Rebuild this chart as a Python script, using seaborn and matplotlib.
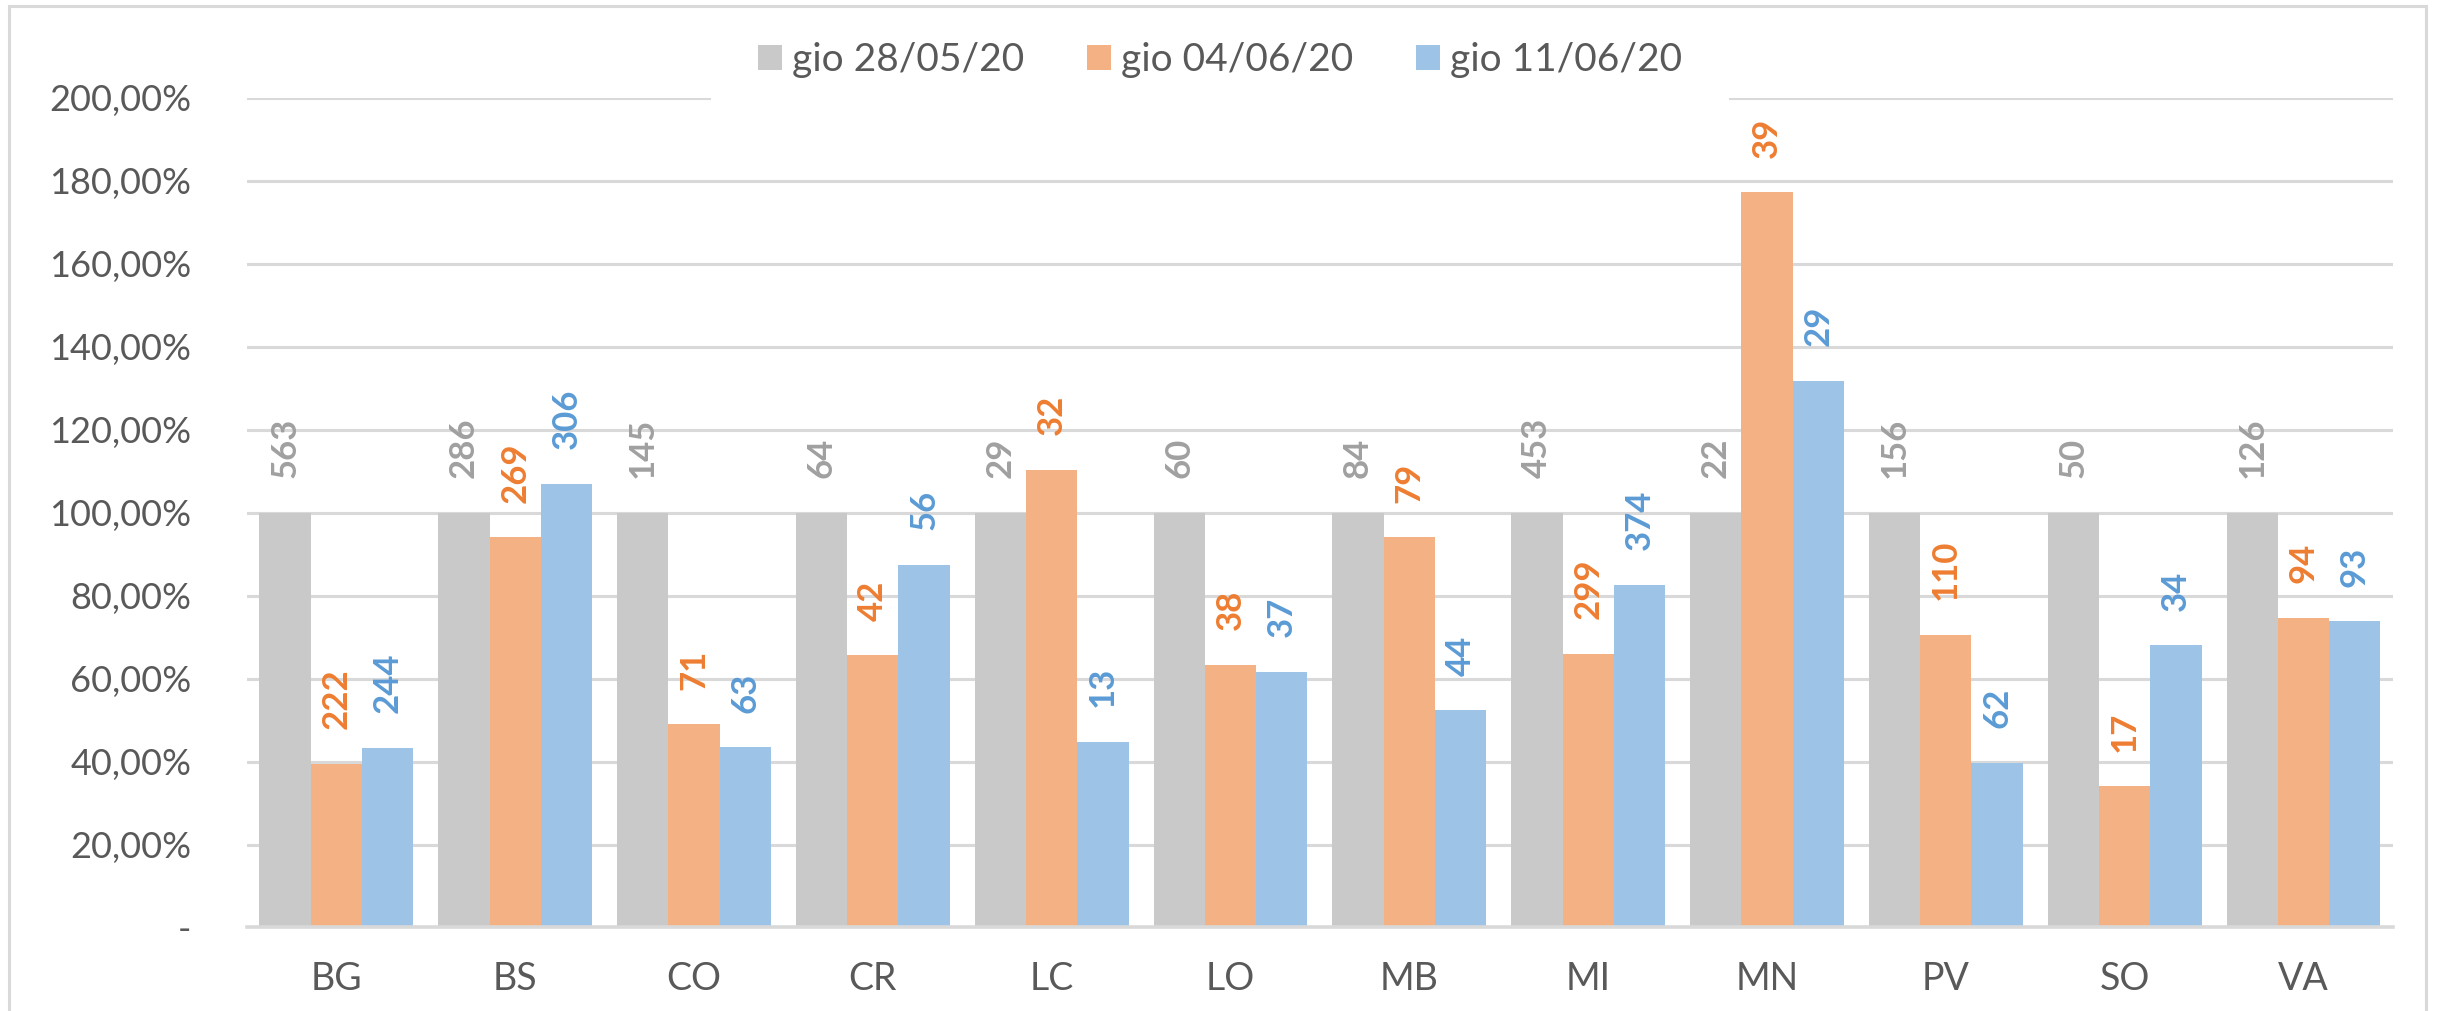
import pandas as pd
import matplotlib.pyplot as plt
import seaborn as sns
import matplotlib.ticker as mticker
from matplotlib.patches import Rectangle

# province e serie
province = ["BG", "BS", "CO", "CR", "LC", "LO", "MB", "MI", "MN", "PV", "SO", "VA"]
date = ["gio 28/05/20", "gio 04/06/20", "gio 11/06/20"]

# percentuali rispetto al 28/05
pct_2805 = [100, 100, 100, 100, 100, 100, 100, 100, 100, 100, 100, 100]
pct_0406 = [39.43, 94.06, 48.97, 65.63, 110.34, 63.33, 94.05, 66.00, 177.27, 70.51, 34.00, 74.60]
pct_1106 = [43.34, 106.99, 43.45, 87.50, 44.83, 61.67, 52.38, 82.56, 131.82, 39.74, 68.00, 73.81]

# valori assoluti mostrati come etichette
n_2805 = [563, 286, 145, 64, 29, 60, 84, 453, 22, 156, 50, 126]
n_0406 = [222, 269, 71, 42, 32, 38, 79, 299, 39, 110, 17, 94]
n_1106 = [244, 306, 63, 56, 13, 37, 44, 374, 29, 62, 34, 93]

bar_colors = ["#C9C9C9", "#F4B183", "#9DC3E6"]
label_colors = ["#A0A0A0", "#ED7D31", "#5B9BD5"]

df = pd.DataFrame({
    "prov": province * 3,
    "data": [date[0]] * 12 + [date[1]] * 12 + [date[2]] * 12,
    "pct": pct_2805 + pct_0406 + pct_1106,
})

sns.set_style("white")
plt.rcParams["font.family"] = ["Lato", "DejaVu Sans"]

fig = plt.figure(figsize=(24.4, 10.11), dpi=100)
ax = fig.add_axes([0.1012, 0.0826, 0.8795, 0.8205])

sns.barplot(data=df, x="prov", y="pct", hue="data", palette=bar_colors,
            width=0.86, saturation=1, linewidth=0, ax=ax)

# etichette ruotate sopra le barre
counts = [n_2805, n_0406, n_1106]
for i, cont in enumerate(ax.containers):
    ax.bar_label(cont, labels=[str(v) for v in counts[i]], rotation=90,
                 padding=25, fontsize=25, color=label_colors[i], fontweight="bold")

ax.set_ylim(0, 200)
ax.set_xlim(-0.5, 11.5)
ax.set_yticks(range(0, 201, 20))
ax.yaxis.set_major_formatter(mticker.FuncFormatter(
    lambda v, _: "-" if v == 0 else f"{v:.2f}".replace(".", ",") + "%"))
ax.grid(axis="y", color="#D9D9D9", linewidth=2.2)
ax.set_axisbelow(True)
for s in ["top", "right", "left"]:
    ax.spines[s].set_visible(False)
ax.spines["bottom"].set_color("#D9D9D9")
ax.spines["bottom"].set_linewidth(2.6)
ax.tick_params(axis="y", length=0, pad=40, labelsize=26, labelcolor="#595959")
ax.tick_params(axis="x", length=0, pad=24, labelsize=27, labelcolor="#595959")
ax.set_xlabel("")
ax.set_ylabel("")

handles, labels = ax.get_legend_handles_labels()
ax.legend(handles, labels, loc="center", bbox_to_anchor=(0.5, 0.9407),
          bbox_transform=fig.transFigure, ncol=3, fontsize=28,
          frameon=True, facecolor="white", edgecolor="none", framealpha=1,
          fancybox=False, borderpad=1.2, handlelength=0.62, handleheight=0.62,
          handletextpad=0.27, columnspacing=1.6, labelcolor="#595959")

# cornice esterna
fig.patches.append(Rectangle((0.0037, -0.01), 0.9906, 1.004, transform=fig.transFigure,
                             fill=False, edgecolor="#D9D9D9", linewidth=2.2, zorder=10))

fig.savefig("out.png", dpi=100)
